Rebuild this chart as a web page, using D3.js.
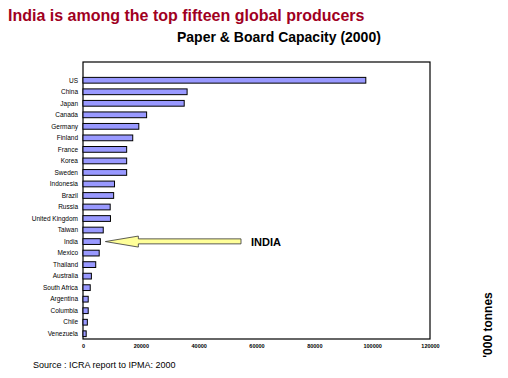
<!DOCTYPE html>
<html><head><meta charset="utf-8">
<script src="https://cdn.jsdelivr.net/npm/d3@7"></script>
<style>body{margin:0;background:#fff}svg{display:block}text{font-family:Arial,"Liberation Sans",sans-serif}</style>
</head><body>
<svg id="c" width="508" height="378"></svg>
<script>
const categories = ["US","China","Japan","Canada","Germany","Finland","France","Korea","Sweden","Indonesia","Brazil","Russia","United Kingdom","Taiwan","India","Mexico","Thailand","Australia","South Africa","Argentina","Columbia","Chile","Venezuela"];
const capacity = [97800,36000,35000,22000,19300,17200,15100,15100,15100,10900,10600,9400,9500,7000,6000,5600,4400,2900,2500,1800,1800,1500,1100];
const xTicks = [0,20000,40000,60000,80000,100000,120000];
const titleText = "India is among the top fifteen global producers";
const chartTitle = "Paper & Board Capacity (2000)";
const unitText = "'000 tonnes";
const sourceText = "Source : ICRA report to IPMA: 2000";
const highlight = "India";

const svg = d3.select("#c");
const L = 83, R = 430, T = 62, B = 339;
const x = d3.scaleLinear().domain([0,120000]).range([L,R]);
const y = d3.scaleBand().domain(categories).range([74.5,B+0.5]).paddingInner(0.5).paddingOuter(0.25);

svg.append("text").attr("x",8).attr("y",21).attr("font-size",16).attr("font-weight","bold").attr("fill","#A0001F").text(titleText);
svg.append("text").attr("x",177).attr("y",42).attr("font-size",14).attr("font-weight","bold").attr("fill","#000").text(chartTitle);

svg.append("rect").attr("x",L).attr("y",T).attr("width",R-L).attr("height",B-T).attr("fill","none").attr("stroke","#000").attr("stroke-width",1.2);

svg.selectAll("rect.bar").data(categories).enter().append("rect").attr("class","bar")
  .attr("x",x(0)).attr("y",d=>y(d)).attr("width",(d,i)=>x(capacity[i])-x(0)).attr("height",y.bandwidth())
  .attr("fill","#9999FF").attr("stroke","#000").attr("stroke-width",1);

svg.selectAll("text.cat").data(categories).enter().append("text").attr("class","cat")
  .attr("x",78).attr("y",d=>y(d)+y.bandwidth()/2).attr("dy","0.35em").attr("text-anchor","end")
  .attr("font-size",6.5).attr("fill","#000").text(d=>d);

const ax = svg.append("g").attr("transform",`translate(0,${B})`)
  .call(d3.axisBottom(x).tickValues(xTicks).tickSize(0).tickPadding(5).tickFormat(d3.format("d")));
ax.select(".domain").remove();
ax.selectAll("text").attr("font-size",5.5).attr("font-weight","bold").attr("fill","#000").attr("font-family","Arial,'Liberation Sans',sans-serif");

// arrow pointing to India
const iy = y(highlight)+y.bandwidth()/2;
const tipX = x(capacity[categories.indexOf(highlight)]) + 5;
const arrowPts = [[tipX,iy],[tipX+33,iy-5.5],[tipX+33,iy-2.7],[241,iy-2.7],[241,iy+2.3],[tipX+33,iy+2.3],[tipX+33,iy+5.5]];
svg.append("path").attr("d",d3.line()(arrowPts)+"Z").attr("fill","#FFFF99").attr("stroke","#333").attr("stroke-width",0.8);
svg.append("text").attr("x",251).attr("y",iy).attr("dy","0.36em").attr("font-size",11).attr("font-weight","bold").attr("fill","#000").text(highlight.toUpperCase());

svg.append("text").attr("transform","translate(492,325) rotate(-90)").attr("text-anchor","middle")
  .attr("font-size",12).attr("font-weight","bold").attr("fill","#000").text(unitText);

svg.append("text").attr("x",33).attr("y",368).attr("font-size",9).attr("fill","#000").text(sourceText);
</script>
</body></html>
